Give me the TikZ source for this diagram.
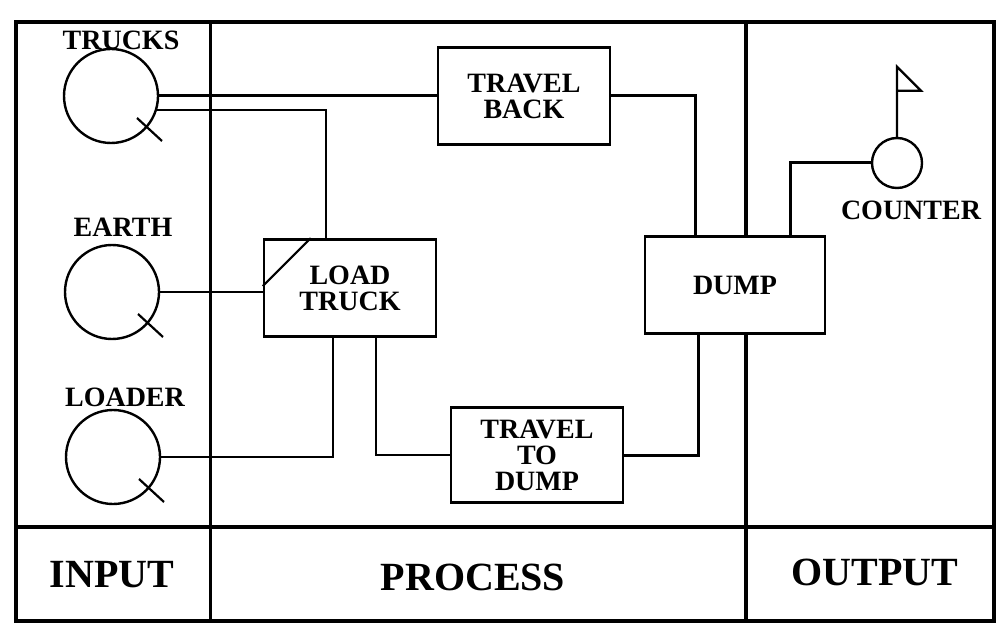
\documentclass[tikz,border=0pt]{standalone}
\usepackage{fontspec}
\setmainfont{Liberation Serif}
\usetikzlibrary{calc,positioning}

\begin{document}
\begin{tikzpicture}[x=1pt, y=-1pt,
    gridline/.style={line width=3.2pt},
    activity/.style={draw, fill=white, line width=2.6pt, minimum width=172pt, minimum height=97pt, inner sep=0pt, align=center, font=\fontsize{28}{26}\selectfont\bfseries},
    queue/.style={draw, circle, line width=2.4pt, minimum size=94pt, inner sep=0pt},
    qlabel/.style={font=\fontsize{28}{26}\selectfont\bfseries, inner sep=0pt},
    zonetext/.style={font=\fontsize{40}{40}\selectfont\bfseries, inner sep=0pt},
    link/.style={line width=2.2pt},
    heavy/.style={line width=3pt}]
    \useasboundingbox (0,0) rectangle (998,631);
    \draw[gridline] (16,22) rectangle (994,621);
    \draw[gridline] (16,527) -- (994,527);
    \draw[gridline] (210.5,22) -- (210.5,621);
    \draw[gridline] (746,22) -- (746,621);
    \node[queue] (trucks) at (111,96) {};
    \node[queue] (earth) at (112,292) {};
    \node[queue] (loader) at (113,457) {};
    \node[queue, minimum size=50pt] (counter) at (897,163) {};
    \node[qlabel] (trucks-l) at (121,40) {TRUCKS};
    \node[qlabel] (earth-l) at (123,227) {EARTH};
    \node[qlabel] (loader-l) at (125,397) {LOADER};
    \node[qlabel] (counter-l) at (911,210) {COUNTER};
    \node[activity] (tback) at (524,96) {TRAVEL\\BACK};
    \node[activity] (ltruck) at (350,288) {LOAD\\TRUCK};
    \node[activity, minimum width=180pt] (dump) at (735,285) {DUMP};
    \node[activity, minimum height=95pt] (tdump) at (537,455) {TRAVEL\\TO\\DUMP};
    \draw[link] ([yshift=-48pt]ltruck.north west) -- ([xshift=48pt]ltruck.north west);
    \foreach \q in {trucks,earth,loader}
        \draw[link] ($(\q)+(26,22)$) -- ++(25,23);
    \draw[link] (counter.north) -- ++(0,-70) -- ++(24,24) -- ++(-24,0);
    \draw[heavy] (trucks) -- (tback);
    \draw[link] (trucks.-17) -| ([xshift=-24pt]ltruck.north);
    \draw[link] (earth) -- (earth -| ltruck.west);
    \draw[link] (loader) -| ([xshift=-17pt]ltruck.south);
    \draw[link] ([xshift=26pt]ltruck.south) |- (tdump);
    \draw[heavy] (tdump) -| ([xshift=-37pt]dump.south);
    \draw[heavy] (tback) -| ([xshift=-40pt]dump.north);
    \draw[heavy] ([xshift=55pt]dump.north) |- (counter);
    \node[zonetext] (input) at (112,575) {INPUT};
    \node[zonetext] (process) at (473,577) {PROCESS};
    \node[zonetext] (output) at (875,572) {OUTPUT};
\end{tikzpicture}
\end{document}
